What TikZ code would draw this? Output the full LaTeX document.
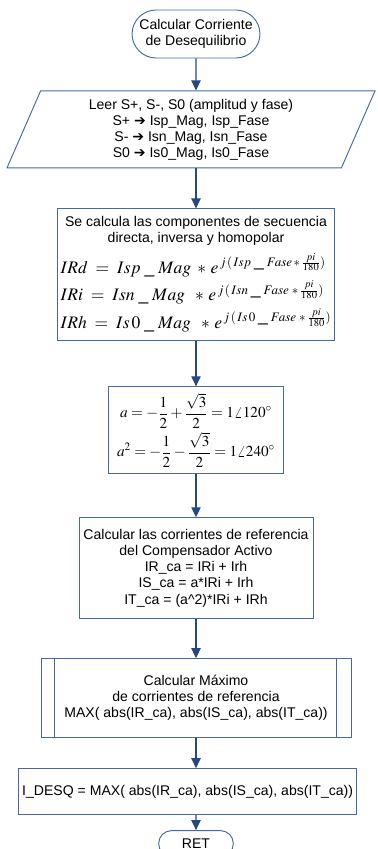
\documentclass[tikz,border=0pt]{standalone}
\usepackage{mathptmx}
\usepackage{fontspec}
\setsansfont{Liberation Sans}
\newfontfamily\arrowfont{DejaVu Sans}
\usepackage{tikz}
\usetikzlibrary{arrows.meta, positioning, shapes.geometric, shapes.misc}
\definecolor{flowborder}{RGB}{70,105,165}
\definecolor{flowarrow}{RGB}{38,72,130}
\newcommand{\fleche}{{\arrowfont\char"2794}}
\newcommand{\eqsz}{\fontsize{15}{18}\selectfont}
\tikzset{
  terminal/.style={
    draw=flowborder,
    line width=0.8pt,
    rounded rectangle,
    align=center,
    inner sep=2pt
  },
  iobox/.style={
    draw=flowborder,
    line width=0.8pt,
    trapezium,
    trapezium left angle=63,
    trapezium right angle=117,
    trapezium stretches body,
    align=center,
    inner sep=2pt
  },
  procbox/.style={
    draw=flowborder,
    line width=0.8pt,
    align=center,
    inner sep=3pt
  },
  arrow/.style={-{Triangle[length=3mm,width=2.8mm]}, line width=0.9pt, flowarrow}
}
\begin{document}
\begin{tikzpicture}[
    font=\sffamily\fontsize{12}{13.7}\selectfont,
    node distance=12mm
]
\useasboundingbox (-5.88,1.02) rectangle (5.43,-24.45);

\node[terminal, minimum width=38.1mm, minimum height=14.4mm] (inicio)
{Calcular Corriente\\de Desequilibrio};

\node[iobox, below=9.6mm of inicio, xshift=-1.5mm, minimum width=110.4mm, minimum height=23.1mm] (leer)
{Leer S+, S-, S0 (amplitud y fase)\\S+ \fleche\ Isp\_Mag, Isp\_Fase\\S- \fleche\ Isn\_Mag, Isn\_Fase\\S0 \fleche\ Is0\_Mag, Is0\_Fase};

\node[procbox, below=12mm of leer, xshift=1.5mm, minimum width=78.9mm, minimum height=39.6mm] (secuencia)
{Se calcula las componentes de secuencia\\directa, inversa y homopolar\\[2mm]
\begin{tabular}{@{}l@{}}
\eqsz$IRd\;=\;Isp\;\_\;Mag\;*\,e^{\,j\,(\,Isp\;\_\;Fase\,*\,\frac{pi}{180})}$\\[1mm]
\eqsz$IRi\;=\;Isn\;\_\;Mag\;\;*\,e^{\,j\,(\,Isn\;\_\;Fase\;*\,\frac{pi}{180})}$\\[1mm]
\eqsz$IRh\;=\;Is\,0\;\_\;Mag\;\;*\,e^{\,j\,(\,Is\,0\;\_\;Fase\;*\,\frac{pi}{180})}$
\end{tabular}};

\node[procbox, below=13.5mm of secuencia, minimum width=52.5mm, minimum height=26.1mm] (operador)
{\fontsize{13}{15}\selectfont$\displaystyle a=-\frac{1}{2}+\frac{\sqrt{3}}{2}=1\angle 120^{\circ}$\\[1mm]
\fontsize{13}{15}\selectfont$\displaystyle a^{2}=-\frac{1}{2}-\frac{\sqrt{3}}{2}=1\angle 240^{\circ}$};

\node[procbox, below=12.9mm of operador, minimum width=70.2mm, minimum height=30.3mm] (corrientes)
{Calcular las corrientes de referencia\\del Compensador Activo\\IR\_ca = IRi + Irh\\IS\_ca = a*IRi + Irh\\IT\_ca = (a\^{}2)*IRi + IRh};

\node[procbox, below=11.7mm of corrientes, minimum width=93mm, minimum height=23.7mm] (maximo)
{Calcular Máximo\\de corrientes de referencia\\MAX( abs(IR\_ca), abs(IS\_ca), abs(IT\_ca))};
\draw[flowborder, line width=0.8pt] ([xshift=4.2mm]maximo.north west) -- ([xshift=4.2mm]maximo.south west);
\draw[flowborder, line width=0.8pt] ([xshift=-4.5mm]maximo.north east) -- ([xshift=-4.5mm]maximo.south east);

\node[procbox, below=9mm of maximo, xshift=-2.5mm, minimum width=98.1mm, minimum height=13.8mm] (idesq)
{I\_DESQ = MAX( abs(IR\_ca), abs(IS\_ca), abs(IT\_ca))};

\node[terminal, below=4.5mm of idesq, xshift=2.5mm, minimum width=23.1mm, minimum height=7.8mm, inner sep=1pt] (ret)
{RET};

\draw[arrow] (inicio) -- (inicio |- leer.north);
\draw[arrow] (inicio |- leer.south) -- (secuencia);
\draw[arrow] (secuencia) -- (operador);
\draw[arrow] (operador) -- (corrientes);
\draw[arrow] (corrientes) -- (maximo);
\draw[arrow] (maximo) -- (maximo |- idesq.north);
\draw[arrow] (maximo |- idesq.south) -- (ret);
\end{tikzpicture}
\end{document}
